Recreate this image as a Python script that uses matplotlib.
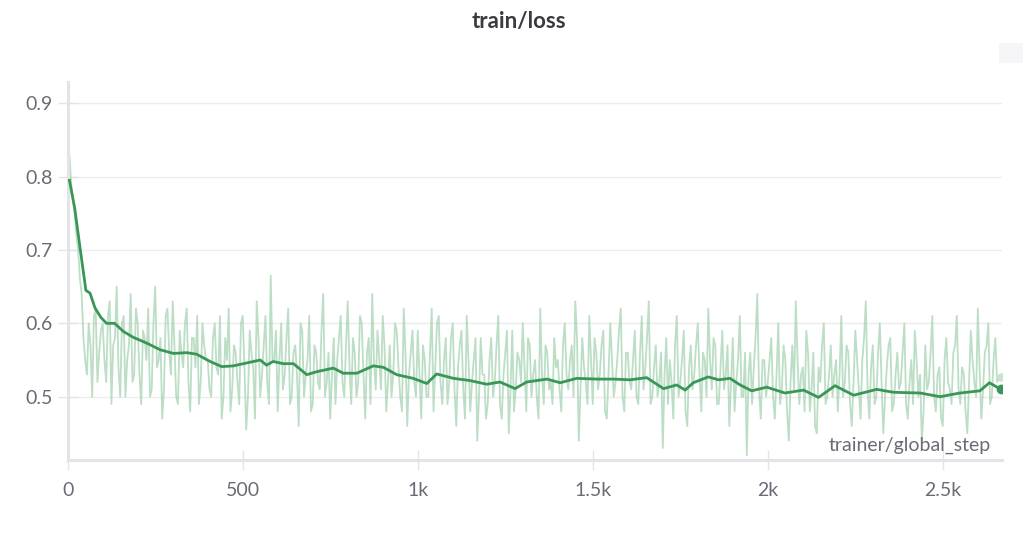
import matplotlib.pyplot as plt
from matplotlib.patches import Rectangle

# raw train/loss, read every 10 steps off the chart (last point at 2666)
raw_step = list(range(0, 2660, 10)) + [2666]
raw_loss = [
    0.82, 0.79, 0.75, 0.70, 0.64, 0.55, 0.60, 0.50, 0.62, 0.56, 0.60, 0.52, 0.63, 0.57, 0.65, 0.50, 0.61, 0.55, 0.64, 0.53,
    0.60, 0.49, 0.58, 0.62, 0.51, 0.65, 0.55, 0.47, 0.61, 0.56, 0.63, 0.50, 0.59, 0.54, 0.62, 0.48, 0.58, 0.61, 0.52, 0.57,
    0.55, 0.50, 0.60, 0.53, 0.47, 0.58, 0.62, 0.51, 0.56, 0.49, 0.61, 0.455, 0.59, 0.54, 0.63, 0.50, 0.57, 0.52, 0.665, 0.55,
    0.48, 0.60, 0.53, 0.62, 0.50, 0.57, 0.46, 0.59, 0.53, 0.61, 0.49, 0.56, 0.51, 0.64, 0.52, 0.47, 0.58, 0.55, 0.61, 0.50,
    0.63, 0.49, 0.56, 0.52, 0.60, 0.47, 0.58, 0.64, 0.51, 0.55, 0.61, 0.48, 0.57, 0.53, 0.59, 0.50, 0.62, 0.46, 0.56, 0.52,
    0.59, 0.47, 0.55, 0.50, 0.62, 0.54, 0.61, 0.49, 0.58, 0.52, 0.60, 0.46, 0.57, 0.51, 0.61, 0.48, 0.55, 0.44, 0.58, 0.53,
    0.49, 0.58, 0.52, 0.61, 0.47, 0.56, 0.45, 0.59, 0.51, 0.55, 0.60, 0.48, 0.57, 0.53, 0.50, 0.62, 0.49, 0.56, 0.52, 0.58,
    0.55, 0.48, 0.60, 0.51, 0.57, 0.63, 0.44, 0.58, 0.52, 0.61, 0.49, 0.56, 0.53, 0.59, 0.47, 0.60, 0.50, 0.55, 0.62, 0.48,
    0.56, 0.51, 0.59, 0.49, 0.61, 0.54, 0.63, 0.50, 0.57, 0.52, 0.43, 0.58, 0.55, 0.47, 0.61, 0.52, 0.59, 0.46, 0.57, 0.53,
    0.60, 0.48, 0.55, 0.62, 0.51, 0.57, 0.49, 0.59, 0.53, 0.46, 0.58, 0.52, 0.61, 0.50, 0.42, 0.56, 0.54, 0.64, 0.47, 0.55,
    0.52, 0.58, 0.47, 0.60, 0.51, 0.55, 0.44, 0.57, 0.63, 0.49, 0.54, 0.59, 0.48, 0.56, 0.45, 0.52, 0.60, 0.50, 0.57, 0.53,
    0.48, 0.61, 0.52, 0.56, 0.46, 0.59, 0.51, 0.55, 0.63, 0.47, 0.57, 0.50, 0.60, 0.45, 0.54, 0.58, 0.49, 0.56, 0.52, 0.60,
    0.47, 0.55, 0.59, 0.50, 0.44, 0.57, 0.52, 0.61, 0.48, 0.54, 0.46, 0.58, 0.51, 0.56, 0.61, 0.49, 0.53, 0.45, 0.59, 0.52,
    0.62, 0.47, 0.56, 0.60, 0.50, 0.58, 0.527,
]

# raw values in between (steps 5, 15, ... 2655)
mid_step = list(range(5, 2660, 10))
mid_loss = [
    0.83, 0.77, 0.72, 0.66, 0.58, 0.53, 0.57, 0.61, 0.52, 0.59, 0.55, 0.61, 0.49, 0.58, 0.54, 0.60, 0.50, 0.57, 0.52, 0.62,
    0.53, 0.59, 0.55, 0.50, 0.60, 0.54, 0.58, 0.51, 0.62, 0.53, 0.57, 0.49, 0.56, 0.60, 0.52, 0.58, 0.54, 0.49, 0.60, 0.55,
    0.51, 0.58, 0.54, 0.61, 0.50, 0.55, 0.48, 0.57, 0.52, 0.60, 0.54, 0.50, 0.56, 0.47, 0.58, 0.53, 0.61, 0.49, 0.55, 0.59,
    0.55, 0.51, 0.58, 0.49, 0.56, 0.53, 0.60, 0.50, 0.55, 0.48, 0.57, 0.52, 0.59, 0.50, 0.56, 0.53, 0.49, 0.58, 0.52, 0.57,
    0.54, 0.58, 0.50, 0.61, 0.53, 0.56, 0.49, 0.55, 0.59, 0.51, 0.57, 0.52, 0.50, 0.60, 0.54, 0.48, 0.56, 0.53, 0.59, 0.50,
    0.53, 0.57, 0.50, 0.56, 0.48, 0.60, 0.52, 0.55, 0.49, 0.58, 0.51, 0.54, 0.59, 0.47, 0.55, 0.52, 0.58, 0.50, 0.53, 0.47,
    0.55, 0.50, 0.57, 0.49, 0.53, 0.59, 0.51, 0.48, 0.56, 0.52, 0.54, 0.58, 0.50, 0.55, 0.47, 0.53, 0.57, 0.51, 0.49, 0.54,
    0.51, 0.57, 0.53, 0.55, 0.50, 0.58, 0.51, 0.54, 0.49, 0.55, 0.58, 0.51, 0.57, 0.48, 0.53, 0.55, 0.52, 0.59, 0.50, 0.56,
    0.52, 0.55, 0.50, 0.56, 0.51, 0.58, 0.49, 0.54, 0.50, 0.56, 0.53, 0.49, 0.52, 0.57, 0.50, 0.55, 0.48, 0.54, 0.51, 0.57,
    0.53, 0.56, 0.50, 0.55, 0.58, 0.49, 0.54, 0.51, 0.57, 0.52, 0.48, 0.55, 0.50, 0.56, 0.53, 0.49, 0.58, 0.51, 0.55, 0.50,
    0.55, 0.50, 0.53, 0.49, 0.57, 0.48, 0.52, 0.51, 0.55, 0.53, 0.48, 0.56, 0.51, 0.46, 0.54, 0.57, 0.49, 0.53, 0.50, 0.55,
    0.53, 0.50, 0.57, 0.49, 0.52, 0.55, 0.47, 0.58, 0.51, 0.54, 0.49, 0.56, 0.52, 0.50, 0.57, 0.48, 0.53, 0.51, 0.56, 0.49,
    0.52, 0.49, 0.55, 0.53, 0.48, 0.51, 0.56, 0.50, 0.53, 0.47, 0.55, 0.52, 0.49, 0.57, 0.51, 0.54, 0.48, 0.52, 0.55, 0.50,
    0.54, 0.51, 0.57, 0.49, 0.55, 0.52,
]

# smoothed curve as drawn
smooth_step = [5, 20, 35, 52, 64, 78, 95, 111, 134, 159, 187, 226, 264, 302, 340, 368, 407, 440,
               473, 502, 550, 568, 587, 616, 645, 683, 711, 759, 787, 826, 873, 902, 940, 987,
               1026, 1054, 1102, 1149, 1197, 1235, 1278, 1311, 1369, 1407, 1454, 1511, 1559,
               1607, 1654, 1702, 1740, 1764, 1787, 1830, 1859, 1892, 1921, 1954, 1997, 2049,
               2102, 2145, 2192, 2245, 2311, 2359, 2435, 2492, 2549, 2606, 2633, 2666]
smooth_loss = [0.795, 0.757, 0.704, 0.645, 0.641, 0.621, 0.608, 0.600, 0.600, 0.589, 0.581, 0.573,
               0.564, 0.559, 0.560, 0.558, 0.548, 0.541, 0.542, 0.545, 0.550, 0.543, 0.548, 0.545,
               0.545, 0.530, 0.534, 0.539, 0.532, 0.532, 0.542, 0.540, 0.530, 0.525, 0.518, 0.531,
               0.525, 0.522, 0.517, 0.520, 0.511, 0.520, 0.524, 0.519, 0.525, 0.524, 0.524, 0.523,
               0.526, 0.511, 0.516, 0.509, 0.519, 0.527, 0.523, 0.525, 0.516, 0.508, 0.513, 0.505,
               0.509, 0.499, 0.515, 0.502, 0.510, 0.506, 0.505, 0.500, 0.505, 0.508, 0.519, 0.510]

yticks = [0.5, 0.6, 0.7, 0.8, 0.9]
xticks = [0, 500, 1000, 1500, 2000, 2500]
xlabels = ['0', '500', '1k', '1.5k', '2k', '2.5k']

plt.rcParams['font.family'] = ['Lato', 'DejaVu Sans']

# merge both raw lists in step order
pairs = sorted(zip(raw_step + mid_step, raw_loss + mid_loss))
all_step = [p[0] for p in pairs]
all_loss = [p[1] for p in pairs]

fig = plt.figure(figsize=(10.24, 5.35), dpi=100)
ax = fig.add_axes([0.0661, 0.1402, 0.9124, 0.7065])

raw_col = '#9fd0ad'
dark_col = '#3a9656'
grey = '#e4e4e8'
text_col = '#6b6b76'

ax.plot(all_step, all_loss, color=raw_col, lw=1.3, alpha=0.7, zorder=2)
ax.plot(smooth_step, smooth_loss, color=dark_col, lw=2.0, zorder=3)
ax.plot(raw_step[-1], raw_loss[-1], 'o', color='#c8e3cf', ms=5, zorder=3)
ax.plot(smooth_step[-1], smooth_loss[-1], 'o', color=dark_col, ms=6, zorder=4)

ax.set_xlim(0, 2669)
ax.set_ylim(0.4137, 0.929)
ax.set_xticks(xticks)
ax.set_xticklabels(xlabels)
ax.set_yticks(yticks)
ax.set_yticklabels([str(v) for v in yticks])

ax.grid(axis='y', color='#ececee', lw=1)
ax.set_axisbelow(True)
for s in ['top', 'right']:
    ax.spines[s].set_visible(False)
for s in ['left', 'bottom']:
    ax.spines[s].set_color(grey)
    ax.spines[s].set_linewidth(2.2)
ax.tick_params(direction='inout', length=14, width=1, color=grey,
               labelcolor=text_col, labelsize=14)
ax.tick_params(axis='x', pad=9)
ax.tick_params(axis='y', pad=4)

ax.text(0.988, 0.025, 'trainer/global_step', transform=ax.transAxes,
        ha='right', va='baseline', fontsize=14, color=text_col)

fig.text(0.507, 0.947, 'train/loss', ha='center', va='baseline',
         fontsize=16, fontweight='bold', color='#3a3a40')
fig.patches.append(Rectangle((0.9755, 0.882), 0.0235, 0.037, transform=fig.transFigure,
                             facecolor='#f6f6f8', edgecolor='none'))

fig.savefig('out.png', dpi=100)
